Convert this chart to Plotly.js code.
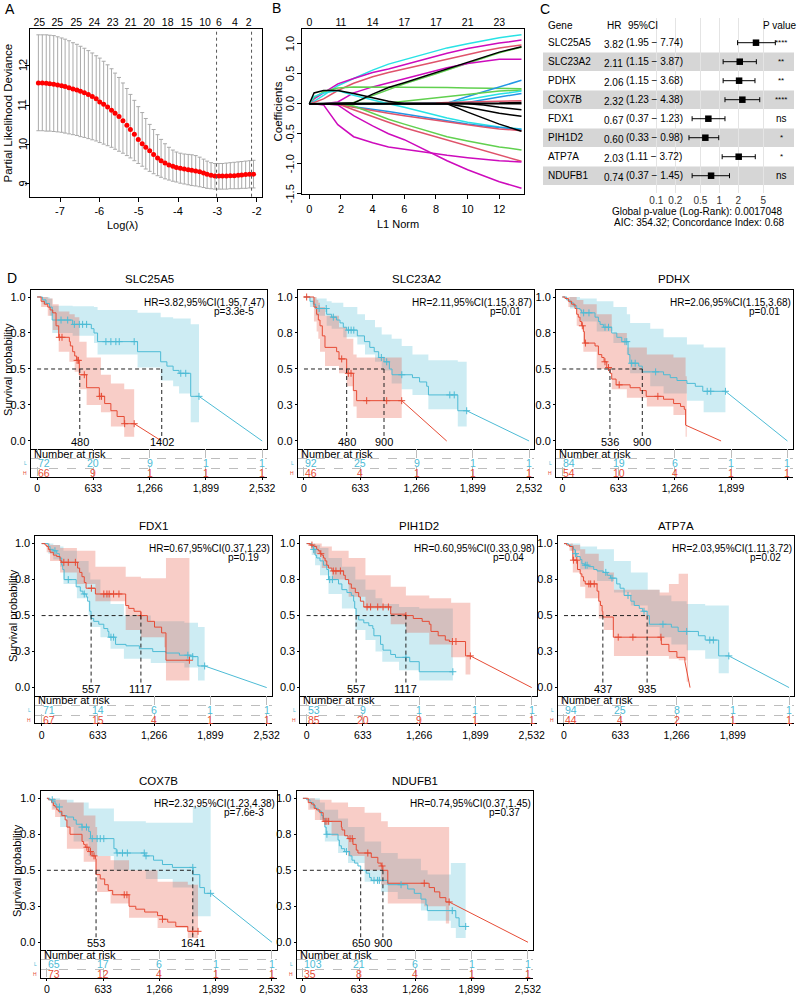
<!DOCTYPE html>
<html><head><meta charset="utf-8">
<script src="https://cdn.plot.ly/plotly-3.0.1.min.js"></script>
<style>html,body{margin:0;padding:0;background:#fff}#chart{width:799px;height:997px}</style>
</head><body><div id="chart"></div>
<script>
// ================= DATA =================
// ---- Panel A: LASSO cross-validation ----
const lassoLogLambda = [-7.55,-7.45,-7.35,-7.26,-7.16,-7.06,-6.96,-6.87,-6.77,-6.67,-6.57,-6.48,-6.38,-6.28,-6.18,-6.08,-5.99,-5.89,-5.79,-5.69,-5.60,-5.50,-5.40,-5.30,-5.21,-5.11,-5.01,-4.91,-4.82,-4.72,-4.62,-4.52,-4.43,-4.33,-4.23,-4.13,-4.04,-3.94,-3.84,-3.74,-3.65,-3.55,-3.45,-3.35,-3.26,-3.16,-3.06,-2.96,-2.87,-2.77,-2.67,-2.57,-2.47,-2.38,-2.28,-2.18,-2.08];
const lassoDeviance = [11.56,11.56,11.55,11.54,11.53,11.51,11.49,11.47,11.44,11.41,11.38,11.35,11.31,11.27,11.22,11.16,11.08,11.02,10.95,10.87,10.79,10.71,10.6,10.49,10.38,10.26,10.13,10.02,9.93,9.84,9.75,9.66,9.59,9.53,9.48,9.45,9.42,9.4,9.38,9.36,9.35,9.33,9.31,9.28,9.25,9.22,9.2,9.2,9.2,9.2,9.21,9.21,9.22,9.23,9.24,9.25,9.25];
const lassoUpper = [12.78,12.78,12.78,12.77,12.76,12.73,12.7,12.67,12.63,12.58,12.54,12.49,12.44,12.38,12.32,12.25,12.19,12.11,12.02,11.92,11.81,11.7,11.56,11.42,11.27,11.12,10.96,10.81,10.66,10.51,10.38,10.25,10.13,10.02,9.93,9.86,9.81,9.78,9.76,9.75,9.74,9.72,9.68,9.63,9.58,9.54,9.52,9.52,9.52,9.53,9.54,9.55,9.56,9.57,9.58,9.59,9.6];
const lassoLower = [10.35,10.35,10.34,10.34,10.33,10.32,10.31,10.29,10.27,10.25,10.23,10.2,10.18,10.15,10.12,10.09,10.05,10.01,9.97,9.93,9.88,9.83,9.78,9.72,9.66,9.59,9.52,9.45,9.38,9.32,9.26,9.21,9.17,9.13,9.1,9.07,9.05,9.02,9.0,8.98,8.96,8.95,8.93,8.91,8.89,8.88,8.87,8.87,8.87,8.87,8.88,8.88,8.88,8.89,8.89,8.9,8.9];
const lassoTopPos = [-7.525,-7.068,-6.585,-6.127,-5.661,-5.203,-4.737,-4.263,-3.78,-3.314,-2.958,-2.551,-2.203];
const lassoTopLab = ['25','25','25','24','23','21','20','18','15','10','6','4','2'];
const lassoXTicks = [-7,-6,-5,-4,-3,-2];
const lassoYTicks = [9,10,11,12];
const lambdaLines = [-3.02,-2.13];

// ---- Panel B: coefficient paths ----
const coefL1 = [0,0.3,0.9,1.8,2.8,4,5,6,8,8.7,10,11,12,13.4];
const coefPaths = [
 [0,0.04,0.14,0.3,0.42,0.56,0.66,0.73,0.88,0.93,1.0,1.05,1.1,1.15],
 [0,0.08,0.18,0.33,0.42,0.52,0.58,0.65,0.8,0.84,0.92,0.97,1.01,1.06],
 [0,0.02,0.08,0.22,0.34,0.45,0.52,0.58,0.71,0.75,0.83,0.88,0.93,0.98],
 [0,0,0,0,0.02,0.14,0.24,0.33,0.5,0.56,0.68,0.76,0.85,0.94],
 [0,0,0,0.03,0.18,0.28,0.35,0.42,0.56,0.6,0.67,0.71,0.74,0.74],
 [0,0.1,0.2,0.26,0.28,0.28,0.28,0.27,0.27,0.27,0.26,0.26,0.25,0.25],
 [0,0,0,0,0,0,0,0,0,0.01,0.12,0.2,0.28,0.39],
 [0,0,0,0,0,0,0.01,0.04,0.1,0.12,0.16,0.19,0.21,0.23],
 [0,0,0,0,0,0,0,0,0,0.01,0.07,0.12,0.16,0.21],
 [0,0,0,0,0,0,0,0,0,0,0.02,0.06,0.11,0.17],
 [0,0,0,0,0,0,0,0,0.01,0.02,0.03,0.04,0.05,0.05],
 [0,0.12,0.18,0.22,0.14,0.06,0,-0.06,-0.2,-0.24,-0.31,-0.35,-0.39,-0.42],
 [0,0,0,0,-0.05,-0.1,-0.13,-0.17,-0.26,-0.28,-0.34,-0.37,-0.4,-0.43],
 [0,0,0,-0.01,-0.06,-0.12,-0.16,-0.2,-0.28,-0.3,-0.36,-0.39,-0.42,-0.45],
 [0,0,0,0,-0.04,-0.16,-0.26,-0.34,-0.5,-0.55,-0.62,-0.67,-0.72,-0.77],
 [0,0,0,0,-0.1,-0.22,-0.31,-0.4,-0.55,-0.6,-0.7,-0.78,-0.86,-0.96],
 [0,0,-0.02,-0.35,-0.55,-0.65,-0.72,-0.76,-0.84,-0.86,-0.9,-0.93,-0.95,-0.97],
 [0,0,0,-0.02,-0.2,-0.37,-0.5,-0.6,-0.86,-0.95,-1.1,-1.2,-1.3,-1.41],
 [0,0,0,0,0.01,0.16,0.27,0.35,0.52,0.58,0.7,0.78,0.86,0.95],
 [0,0,0,0,0,0,0,0,0,0,0,0,0.01,0.02],
 [0,0.18,0.22,0.22,0.17,0.1,0.04,0,0,0,0,0,0,0],
 [0,0,0,0,0,0,0,0,0,0,0,-0.02,-0.06,-0.1],
 [0,0,0,0,0,0,0,0,0,0,-0.06,-0.11,-0.16,-0.21],
 [0,0,0,0,0,0,0,0,0,0,-0.14,-0.24,-0.34,-0.46]
];
const coefColors = ['#28E2E5','#CD0BBC','#DF536B','#61D04F','#CD0BBC','#61D04F','#2297E6','#61D04F','#28E2E5','#2297E6','#DF536B','#28E2E5','#2297E6','#DF536B','#61D04F','#DF536B','#CD0BBC','#CD0BBC','#000000','#000000','#000000','#000000','#000000','#000000'];
const coefXTicks = [0,2,4,6,8,10,12];
const coefTopLab = ['0','11','14','17','17','21','23'];
const coefYTicks = [-1.5,-1,-0.5,0,0.5,1];
const coefYLab = ['-1.5','-1.0','-0.5','0.0','0.5','1.0'];

// ---- Panel C: multivariate Cox forest ----
const fpGenes = ['SLC25A5','SLC23A2','PDHX','COX7B','FDX1','PIH1D2','ATP7A','NDUFB1'];
const fpHR = [3.82,2.11,2.06,2.32,0.67,0.60,2.03,0.74];
const fpLo = [1.95,1.15,1.15,1.23,0.37,0.33,1.11,0.37];
const fpHi = [7.74,3.87,3.68,4.38,1.23,0.98,3.72,1.45];
const fpSig = ['****','**','**','****','ns','*','*','ns'];
const fpTicks = [0.1,0.2,0.5,1,2,5];
const fpFooter = ['Global p-value (Log-Rank): 0.0017048','AIC: 354.32; Concordance Index: 0.68'];

// ---- Panel D: Kaplan-Meier ----
const kmGenes = ['SLC25A5','SLC23A2','PDHX','FDX1','PIH1D2','ATP7A','COX7B','NDUFB1'];
const kmHR = ['HR=3.82,95%CI(1.95,7.47)','HR=2.11,95%CI(1.15,3.87)','HR=2.06,95%CI(1.15,3.68)','HR=0.67,95%CI(0.37,1.23)','HR=0.60,95%CI(0.33,0.98)','HR=2.03,95%CI(1.11,3.72)','HR=2.32,95%CI(1.23,4.38)','HR=0.74,95%CI(0.37,1.45)'];
const kmP = ['p=3.3e-5','p=0.01','p=0.01','p=0.19','p=0.04','p=0.02','p=7.6e-3','p=0.37'];
const medianL = [1402,900,900,557,557,935,1641,650];
const medianH = [480,480,536,1117,1117,437,553,900];
const riskL = [[72,20,9,1,1],[92,25,9,1,1],[84,19,6,1,1],[71,14,6,1,1],[53,9,1,1,1],[94,25,8,1,1],[65,17,6,1,1],[103,21,6,1,1]];
const riskH = [[66,9,1,1,1],[46,4,1,1,1],[54,10,4,1,1],[67,15,4,1,1],[85,20,9,1,1],[44,4,2,1,1],[73,12,4,1,1],[35,8,4,1,1]];
const riskTimes = [0,633,1266,1899,2532];
const riskTickText = ['0','633','1,266','1,899','2,532'];
const survTicks = [0,0.25,0.5,0.75,1];
const survTickText = ['0.0','0.3','0.5','0.8','1.0'];

// SLC25A5
const SLC25A5_L_t = [0,60,100,140,170,400,610,640,680,1130,1390,1460,1530,1597,1728,1821];
const SLC25A5_L_s = [1,0.98,0.955,0.93,0.84,0.81,0.78,0.75,0.69,0.62,0.55,0.52,0.49,0.47,0.31,0.31];
const SLC25A5_L_cens = [269,344,419,475,512,557,774,830,886,924,1092,1616,1672,1821];
const SLC25A5_L_ciT = [0,60,140,170,400,640,680,1130,1390,1530,1597,1728,1821];
const SLC25A5_L_lo = [1,0.95,0.87,0.75,0.73,0.68,0.6,0.51,0.42,0.38,0.33,0.13,0.13];
const SLC25A5_L_hi = [1,1,0.99,0.94,0.935,0.93,0.91,0.89,0.86,0.85,0.85,0.81,0.81];
const SLC25A5_L_tail = 2532;
const SLC25A5_H_t = [0,45,82,120,146,176,213,243,363,374,400,423,445,475,557,700,760,830,900,980,1092];
const SLC25A5_H_s = [1,0.97,0.95,0.93,0.91,0.89,0.8,0.72,0.69,0.66,0.62,0.59,0.56,0.46,0.37,0.31,0.26,0.21,0.17,0.12,0.12];
const SLC25A5_H_cens = [250,280,450,465,531,705,725,985,1092];
const SLC25A5_H_ciT = [0,45,120,176,243,363,423,475,557,718,830,980,1092];
const SLC25A5_H_lo = [1,0.93,0.87,0.77,0.62,0.55,0.48,0.36,0.25,0.2,0.1,0.03,0.03];
const SLC25A5_H_hi = [1,1,0.99,0.95,0.9,0.88,0.86,0.69,0.58,0.46,0.4,0.36,0.36];
const SLC25A5_H_tail = 1400;
// SLC23A2
const SLC23A2_L_t = [0,67,105,131,255,311,367,405,442,480,600,680,740,790,840,900,960,990,1220,1300,1380,1400,1730,1830];
const SLC23A2_L_s = [1,0.97,0.95,0.92,0.88,0.86,0.84,0.82,0.79,0.77,0.73,0.69,0.65,0.62,0.58,0.55,0.5,0.46,0.44,0.41,0.38,0.32,0.21,0.21];
const SLC23A2_L_cens = [170,250,330,500,530,560,870,930,1100,1640,1690,1830];
const SLC23A2_L_ciT = [0,67,131,255,311,442,600,686,799,874,986,1099,1220,1399,1730,1830];
const SLC23A2_L_lo = [1,0.93,0.87,0.8,0.78,0.72,0.67,0.6,0.55,0.49,0.4,0.36,0.32,0.22,0.1,0.1];
const SLC23A2_L_hi = [1,1,0.99,0.97,0.96,0.93,0.88,0.84,0.79,0.74,0.71,0.66,0.6,0.56,0.55,0.55];
const SLC23A2_L_tail = 2532;
const SLC23A2_H_t = [0,112,142,161,180,206,236,367,394,480,555,592,1099];
const SLC23A2_H_s = [1,0.93,0.88,0.84,0.8,0.73,0.65,0.62,0.57,0.47,0.35,0.28,0.28];
const SLC23A2_H_cens = [30,424,499,529,705,930,1099];
const SLC23A2_H_ciT = [0,112,142,161,180,236,394,480,555,592,1099];
const SLC23A2_H_lo = [1,0.83,0.76,0.71,0.62,0.52,0.47,0.38,0.24,0.16,0.16];
const SLC23A2_H_hi = [1,1,0.98,0.96,0.93,0.87,0.79,0.71,0.6,0.58,0.58];
const SLC23A2_H_tail = 1605;
// PDHX
const PDHX_L_t = [0,49,86,124,162,199,218,368,406,425,462,556,613,669,740,760,860,900,1139,1214,1290,1402,1496,1580,1835];
const PDHX_L_s = [1,0.98,0.96,0.94,0.92,0.91,0.89,0.86,0.83,0.81,0.79,0.75,0.72,0.69,0.6,0.54,0.52,0.48,0.46,0.44,0.42,0.4,0.38,0.345,0.345];
const PDHX_L_cens = [240,300,480,520,705,725,780,820,1050,1630,1670,1835];
const PDHX_L_ciT = [0,86,199,387,575,726,763,989,1139,1402,1590,1835];
const PDHX_L_lo = [1,0.92,0.83,0.76,0.68,0.6,0.47,0.38,0.33,0.28,0.2,0.2];
const PDHX_L_hi = [1,1,0.99,0.97,0.93,0.88,0.82,0.78,0.72,0.67,0.65,0.65];
const PDHX_L_tail = 2532;
const PDHX_H_t = [0,30,68,105,143,162,180,199,218,237,248,368,406,444,470,500,538,556,605,763,876,944,1139,1252,1330,1372,1387];
const PDHX_H_s = [1,0.99,0.97,0.95,0.92,0.88,0.86,0.83,0.8,0.76,0.68,0.66,0.6,0.58,0.55,0.51,0.47,0.43,0.39,0.37,0.35,0.31,0.29,0.26,0.24,0.22,0.11];
const PDHX_H_cens = [225,260,480,520,640,1075];
const PDHX_H_ciT = [0,68,162,237,387,556,726,951,1250,1387,1400];
const PDHX_H_lo = [1,0.93,0.8,0.62,0.5,0.36,0.3,0.24,0.18,0.03,0.03];
const PDHX_H_hi = [1,1,0.98,0.95,0.88,0.75,0.65,0.6,0.58,0.45,0.45];
const PDHX_H_tail = 1786;
// FDX1
const FDX1_L_t = [0,76,95,132,170,200,227,238,253,389,435,465,503,518,541,556,586,643,700,745,757,832,950,1100,1250,1400,1550,1700,1759,1834];
const FDX1_L_s = [1,0.98,0.96,0.95,0.93,0.9,0.85,0.82,0.75,0.7,0.67,0.65,0.63,0.6,0.53,0.48,0.46,0.44,0.41,0.39,0.35,0.3,0.29,0.27,0.25,0.24,0.225,0.215,0.15,0.15];
const FDX1_L_cens = [150,300,480,780,810,1645,1700,1834];
const FDX1_L_ciT = [0,76,132,208,246,397,529,548,662,775,926,1228,1606,1759,1834];
const FDX1_L_lo = [1,0.93,0.89,0.84,0.72,0.62,0.5,0.42,0.35,0.27,0.2,0.17,0.14,0.05,0.05];
const FDX1_L_hi = [1,1,0.99,0.98,0.95,0.88,0.8,0.75,0.65,0.58,0.5,0.46,0.45,0.42,0.42];
const FDX1_L_tail = 2532;
const FDX1_H_t = [0,39,57,76,95,132,170,208,227,405,428,454,480,500,605,946,980,1040,1117,1190,1270,1350,1399,1663];
const FDX1_H_s = [1,0.99,0.98,0.96,0.94,0.92,0.91,0.88,0.87,0.83,0.8,0.77,0.73,0.69,0.65,0.57,0.55,0.53,0.5,0.46,0.42,0.38,0.19,0.19];
const FDX1_H_cens = [250,300,380,560,700,735,760,810,870,1117,1663];
const FDX1_H_ciT = [0,57,95,208,397,605,946,1117,1380,1399,1663];
const FDX1_H_lo = [1,0.94,0.88,0.8,0.72,0.6,0.4,0.35,0.28,0.05,0.05];
const FDX1_H_hi = [1,1,0.99,0.97,0.95,0.84,0.77,0.76,0.76,0.9,0.9];
const FDX1_H_tail = null;
// PIH1D2
const PIH1D2_L_t = [0,57,76,95,113,151,189,227,246,359,397,454,503,529,541,557,586,643,700,745,757,832,860,946,1000,1160,1267,1645];
const PIH1D2_L_s = [1,0.98,0.96,0.92,0.9,0.88,0.85,0.82,0.75,0.72,0.68,0.66,0.64,0.6,0.55,0.5,0.47,0.45,0.43,0.41,0.36,0.3,0.26,0.23,0.21,0.18,0.11,0.11];
const PIH1D2_L_cens = [80,260,290,1117,1645];
const PIH1D2_L_ciT = [0,57,95,151,246,397,548,662,775,851,1040,1267,1645];
const PIH1D2_L_lo = [1,0.92,0.85,0.78,0.65,0.55,0.4,0.33,0.25,0.18,0.12,0.05,0.05];
const PIH1D2_L_hi = [1,1,0.99,0.97,0.9,0.84,0.75,0.68,0.62,0.58,0.56,0.55,0.55];
const PIH1D2_L_tail = null;
const PIH1D2_H_t = [0,39,76,113,132,151,170,189,208,227,246,284,416,435,473,503,548,586,605,643,946,1117,1200,1300,1380,1399,1480,1560,1607,1788,1842];
const PIH1D2_H_s = [1,0.99,0.98,0.96,0.95,0.93,0.92,0.9,0.88,0.85,0.83,0.81,0.78,0.75,0.72,0.69,0.66,0.63,0.6,0.56,0.51,0.5,0.48,0.46,0.44,0.39,0.36,0.33,0.32,0.22,0.22];
const PIH1D2_H_cens = [60,160,300,330,380,680,720,800,860,920,1117,1640,1680,1842];
const PIH1D2_H_ciT = [0,76,170,284,473,662,946,1117,1380,1626,1788,1842];
const PIH1D2_H_lo = [1,0.93,0.83,0.75,0.63,0.55,0.44,0.38,0.3,0.21,0.09,0.09];
const PIH1D2_H_hi = [1,1,0.98,0.95,0.9,0.78,0.7,0.64,0.62,0.59,0.59,0.59];
const PIH1D2_H_tail = 2532;
// ATP7A
const ATP7A_L_t = [0,49,76,106,125,144,182,201,232,277,334,372,441,486,524,593,631,676,752,790,847,885,935,961,1208,1284,1512,1588,1740,1854];
const ATP7A_L_s = [1,0.99,0.98,0.96,0.93,0.91,0.89,0.86,0.85,0.84,0.82,0.81,0.8,0.78,0.76,0.72,0.69,0.64,0.6,0.57,0.55,0.53,0.5,0.44,0.42,0.39,0.36,0.33,0.22,0.22];
const ATP7A_L_cens = [130,240,260,470,540,720,900,1113,1380,1640,1680,1854];
const ATP7A_L_ciT = [0,76,182,372,562,752,942,1075,1208,1380,1588,1740,1854];
const ATP7A_L_lo = [1,0.95,0.82,0.74,0.66,0.57,0.42,0.35,0.3,0.26,0.2,0.1,0.1];
const ATP7A_L_hi = [1,1,0.98,0.96,0.88,0.8,0.68,0.64,0.6,0.58,0.57,0.57,0.57];
const ATP7A_L_tail = 2532;
const ATP7A_H_t = [0,30,61,99,152,182,201,220,239,372,391,410,429,437,555,1095,1180,1270,1360];
const ATP7A_H_s = [1,0.99,0.98,0.885,0.82,0.79,0.77,0.74,0.72,0.67,0.6,0.57,0.53,0.49,0.35,0.3,0.25,0.21,0.18];
const ATP7A_H_cens = [106,144,280,300,340,610,775,1090];
const ATP7A_H_ciT = [0,61,99,182,239,391,448,562,1076,1180,1290,1380,1395];
const ATP7A_H_lo = [1,0.95,0.8,0.7,0.62,0.48,0.4,0.22,0.22,0.2,0.19,0.04,0.04];
const ATP7A_H_hi = [1,1,0.99,0.96,0.93,0.88,0.8,0.68,0.66,0.72,0.79,0.79,0.79];
const ATP7A_H_tail = 1418;
// COX7B
const COX7B_L_t = [0,36,66,92,111,141,168,225,300,330,395,470,490,754,780,1100,1200,1300,1412,1645,1720,1772,1842];
const COX7B_L_s = [1,0.99,0.98,0.96,0.94,0.9,0.88,0.87,0.85,0.82,0.8,0.77,0.72,0.65,0.62,0.6,0.57,0.54,0.52,0.47,0.38,0.34,0.34];
const COX7B_L_cens = [60,140,395,445,510,565,600,640,790,850,905,1095,1115,1641,1842];
const COX7B_L_ciT = [0,66,149,300,470,754,1113,1415,1641,1842];
const COX7B_L_lo = [1,0.93,0.8,0.7,0.6,0.5,0.44,0.38,0.18,0.18];
const COX7B_L_hi = [1,1,0.99,0.97,0.93,0.84,0.83,0.83,0.94,0.94];
const COX7B_L_tail = 2532;
const COX7B_H_t = [0,17,54,73,92,111,130,168,205,225,260,395,413,432,470,508,546,553,600,650,690,740,924,1000,1100,1245,1300,1359,1450,1585,1700];
const COX7B_H_s = [1,0.99,0.97,0.95,0.94,0.92,0.91,0.88,0.85,0.8,0.75,0.7,0.68,0.66,0.63,0.6,0.58,0.47,0.44,0.4,0.36,0.33,0.25,0.23,0.21,0.185,0.16,0.14,0.11,0.076,0.076];
const COX7B_H_cens = [450,490,530,870,900,1300,1640,1700];
const COX7B_H_ciT = [0,54,92,225,414,546,565,716,924,1245,1585,1700];
const COX7B_H_lo = [1,0.92,0.87,0.65,0.56,0.47,0.35,0.27,0.17,0.1,0.03,0.03];
const COX7B_H_hi = [1,1,0.99,0.97,0.88,0.8,0.6,0.57,0.5,0.42,0.4,0.4];
const COX7B_H_tail = null;
// NDUFB1
const NDUFB1_L_t = [0,42,79,116,142,172,210,228,247,262,395,410,433,470,526,552,582,619,650,712,750,769,955,1179,1253,1328,1384,1400,1720,1757,1831];
const NDUFB1_L_s = [1,0.99,0.97,0.95,0.93,0.91,0.88,0.86,0.8,0.75,0.71,0.67,0.65,0.63,0.6,0.57,0.55,0.53,0.5,0.48,0.45,0.43,0.4,0.37,0.34,0.3,0.26,0.22,0.17,0.11,0.11];
const NDUFB1_L_cens = [270,490,800,840,860,1104,1680,1831];
const NDUFB1_L_ciT = [0,79,191,247,396,508,694,880,1067,1328,1403,1664,1720,1831];
const NDUFB1_L_lo = [1,0.93,0.85,0.7,0.62,0.55,0.42,0.35,0.3,0.22,0.15,0.1,0.03,0.03];
const NDUFB1_L_hi = [1,1,0.97,0.92,0.86,0.8,0.7,0.62,0.58,0.5,0.47,0.55,0.55,0.55];
const NDUFB1_L_tail = null;
const NDUFB1_H_t = [0,60,97,127,153,190,228,433,440,470,507,563,600,619,769,843,880,900,955,1420,1480,1540,1608,1645];
const NDUFB1_H_s = [1,0.97,0.96,0.93,0.92,0.9,0.84,0.8,0.78,0.74,0.72,0.68,0.64,0.62,0.59,0.55,0.53,0.5,0.41,0.38,0.35,0.31,0.28,0.28];
const NDUFB1_H_cens = [250,270,290,530,555,730,890,1365,1645];
const NDUFB1_H_ciT = [0,60,135,322,508,694,880,955,1365,1608,1645];
const NDUFB1_H_lo = [1,0.92,0.85,0.74,0.6,0.5,0.4,0.27,0.25,0.13,0.13];
const NDUFB1_H_hi = [1,1,0.99,0.97,0.94,0.9,0.84,0.8,0.8,0.8,0.8];
const NDUFB1_H_tail = 2532;

const kmData = [
 {L:[SLC25A5_L_t,SLC25A5_L_s,SLC25A5_L_cens,SLC25A5_L_ciT,SLC25A5_L_lo,SLC25A5_L_hi,SLC25A5_L_tail], H:[SLC25A5_H_t,SLC25A5_H_s,SLC25A5_H_cens,SLC25A5_H_ciT,SLC25A5_H_lo,SLC25A5_H_hi,SLC25A5_H_tail]},
 {L:[SLC23A2_L_t,SLC23A2_L_s,SLC23A2_L_cens,SLC23A2_L_ciT,SLC23A2_L_lo,SLC23A2_L_hi,SLC23A2_L_tail], H:[SLC23A2_H_t,SLC23A2_H_s,SLC23A2_H_cens,SLC23A2_H_ciT,SLC23A2_H_lo,SLC23A2_H_hi,SLC23A2_H_tail]},
 {L:[PDHX_L_t,PDHX_L_s,PDHX_L_cens,PDHX_L_ciT,PDHX_L_lo,PDHX_L_hi,PDHX_L_tail], H:[PDHX_H_t,PDHX_H_s,PDHX_H_cens,PDHX_H_ciT,PDHX_H_lo,PDHX_H_hi,PDHX_H_tail]},
 {L:[FDX1_L_t,FDX1_L_s,FDX1_L_cens,FDX1_L_ciT,FDX1_L_lo,FDX1_L_hi,FDX1_L_tail], H:[FDX1_H_t,FDX1_H_s,FDX1_H_cens,FDX1_H_ciT,FDX1_H_lo,FDX1_H_hi,FDX1_H_tail]},
 {L:[PIH1D2_L_t,PIH1D2_L_s,PIH1D2_L_cens,PIH1D2_L_ciT,PIH1D2_L_lo,PIH1D2_L_hi,PIH1D2_L_tail], H:[PIH1D2_H_t,PIH1D2_H_s,PIH1D2_H_cens,PIH1D2_H_ciT,PIH1D2_H_lo,PIH1D2_H_hi,PIH1D2_H_tail]},
 {L:[ATP7A_L_t,ATP7A_L_s,ATP7A_L_cens,ATP7A_L_ciT,ATP7A_L_lo,ATP7A_L_hi,ATP7A_L_tail], H:[ATP7A_H_t,ATP7A_H_s,ATP7A_H_cens,ATP7A_H_ciT,ATP7A_H_lo,ATP7A_H_hi,ATP7A_H_tail]},
 {L:[COX7B_L_t,COX7B_L_s,COX7B_L_cens,COX7B_L_ciT,COX7B_L_lo,COX7B_L_hi,COX7B_L_tail], H:[COX7B_H_t,COX7B_H_s,COX7B_H_cens,COX7B_H_ciT,COX7B_H_lo,COX7B_H_hi,COX7B_H_tail]},
 {L:[NDUFB1_L_t,NDUFB1_L_s,NDUFB1_L_cens,NDUFB1_L_ciT,NDUFB1_L_lo,NDUFB1_L_hi,NDUFB1_L_tail], H:[NDUFB1_H_t,NDUFB1_H_s,NDUFB1_H_cens,NDUFB1_H_ciT,NDUFB1_H_lo,NDUFB1_H_hi,NDUFB1_H_tail]}
];

// ================= LAYOUT / DRAWING =================
const W = 799, H = 997;
const FONT = 'Liberation Sans, Arial, Helvetica, sans-serif';
const fx = p => p / W;
const fy = p => 1 - p / H;
const layout = {width:W, height:H, margin:{l:0,r:0,t:0,b:0,pad:0}, paper_bgcolor:'#ffffff', plot_bgcolor:'rgba(0,0,0,0)',
  showlegend:false, hovermode:false, font:{family:FONT, size:11, color:'#000'}, annotations:[], shapes:[]};
const data = [];
let axCount = 0;
function sfx(n){ return n === 1 ? '' : String(n); }
function addAxes(xPx, yPx, xo, yo){
  axCount++; const s = sfx(axCount);
  layout['xaxis'+s] = Object.assign({domain:[fx(xPx[0]), fx(xPx[1])], anchor:'y'+s, showgrid:false, zeroline:false, fixedrange:true}, xo);
  layout['yaxis'+s] = Object.assign({domain:[fy(yPx[1]), fy(yPx[0])], anchor:'x'+s, showgrid:false, zeroline:false, fixedrange:true}, yo);
  return {x:'x'+s, y:'y'+s};
}
function addOverlayX(base, xo){
  axCount++; const s = sfx(axCount);
  layout['xaxis'+s] = Object.assign({overlaying:base.x, anchor:base.y, side:'top', showgrid:false, zeroline:false, fixedrange:true}, xo);
  return 'x'+s;
}
function ann(o){
  const f = Object.assign({family:FONT, size:11, color:'#000'}, o.font || {});
  layout.annotations.push(Object.assign({showarrow:false, xref:'paper', yref:'paper', xanchor:'center', yanchor:'middle', borderpad:0}, o, {font:f}));
}
const boxAxis = {showline:true, mirror:true, linecolor:'#000', linewidth:1};

// ---------- Panel A ----------
const A = addAxes([30,261.7],[29.3,196.7],
  Object.assign({range:[-7.763,-1.872], tickvals:lassoXTicks, ticktext:lassoXTicks.map(String), ticks:'outside', ticklen:4, tickcolor:'#000', tickfont:{size:11}}, boxAxis),
  Object.assign({range:[8.678,12.92], tickvals:lassoYTicks, showticklabels:false, ticks:'outside', ticklen:4, tickcolor:'#000'}, boxAxis));
lassoYTicks.forEach(v => ann({text:String(v), x:fx(22.5), yref:A.y, y:v, textangle:-90, font:{size:11}}));
const Atop = addOverlayX(A, {range:[-7.763,-1.872], tickvals:lassoTopPos, ticktext:lassoTopLab, ticks:'', tickfont:{size:10.5}, showline:false});
data.push({type:'scatter', x:[-5], y:[10], xaxis:Atop, yaxis:A.y, mode:'markers', marker:{opacity:0}, hoverinfo:'skip'});
data.push({type:'scatter', x:lassoLogLambda, y:lassoDeviance, xaxis:A.x, yaxis:A.y, mode:'markers',
  marker:{color:'#FF0000', size:5},
  error_y:{type:'data', symmetric:false, array:lassoUpper.map((u,i)=>u-lassoDeviance[i]), arrayminus:lassoLower.map((l,i)=>lassoDeviance[i]-l), color:'#AAAAAA', thickness:1, width:2}});
lambdaLines.forEach(v => layout.shapes.push({type:'line', xref:A.x, yref:A.y+' domain', x0:v, x1:v, y0:0, y1:1, line:{color:'#555', width:1, dash:'dot'}}));
ann({text:'A', x:fx(10), y:fy(8.5), font:{size:14}});
ann({text:'Partial Likelihood Deviance', x:fx(7.5), y:fy(113), textangle:-90, font:{size:11.5}});
ann({text:'Log(λ)', x:fx(122.7), y:fy(225), font:{size:11}});

// ---------- Panel B ----------
const B = addAxes([301.7,524],[29.3,194.3],
  Object.assign({range:[-0.48,13.56], tickvals:coefXTicks, ticktext:coefXTicks.map(String), ticks:'outside', ticklen:4, tickcolor:'#000', tickfont:{size:11}}, boxAxis),
  Object.assign({range:[-1.51,1.24], tickvals:coefYTicks, showticklabels:false, ticks:'outside', ticklen:4, tickcolor:'#000'}, boxAxis));
coefYTicks.forEach((v,k) => ann({text:coefYLab[k], x:fx(289.5), yref:B.y, y:v, textangle:-90, font:{size:11}}));
const Btop = addOverlayX(B, {range:[-0.48,13.56], tickvals:coefXTicks, ticktext:coefTopLab, ticks:'', tickfont:{size:10.5}, showline:false});
data.push({type:'scatter', x:[5], y:[0], xaxis:Btop, yaxis:B.y, mode:'markers', marker:{opacity:0}, hoverinfo:'skip'});
coefPaths.forEach((p,i) => data.push({type:'scatter', x:coefL1, y:p, xaxis:B.x, yaxis:B.y, mode:'lines', line:{color:coefColors[i], width:1.5}}));
ann({text:'B', x:fx(276.7), y:fy(8), font:{size:14}});
ann({text:'Coefficients', x:fx(277.5), y:fy(112), textangle:-90, font:{size:11.5}});
ann({text:'L1 Norm', x:fx(398.3), y:fy(224), font:{size:11}});

// ---------- Panel C ----------
const C = addAxes([650,780],[18,193],
  {type:'log', range:[-1.1,0.963], tickvals:fpTicks, ticktext:fpTicks.map(String), ticks:'', showgrid:true, gridcolor:'#E4E4E4', gridwidth:1, tickfont:{size:10, color:'#333'}, showline:false},
  {range:[8.91,-0.3], showticklabels:false, ticks:'', showline:false});
fpGenes.forEach((g,i) => {
  const row = i + 1;
  if (i % 2 === 1) layout.shapes.push({type:'rect', xref:'paper', yref:C.y, x0:fx(543), x1:fx(794), y0:row-0.49, y1:row+0.49, fillcolor:'#D6D6D6', line:{width:0}, layer:'below'});
  ann({text:g, x:fx(547), xanchor:'left', yref:C.y, y:row, font:{size:10}});
  ann({text:fpHR[i].toFixed(2), x:fx(602.7), xanchor:'left', yref:C.y, y:row+0.1, font:{size:10}});
  ann({text:'(' + fpLo[i].toFixed(2) + ' \u2212 ' + fpHi[i].toFixed(2) + ')', x:fx(625), xanchor:'left', yref:C.y, y:row, font:{size:10}});
  ann({text:fpSig[i], x:fx(781), yref:C.y, y:row, font:{size:fpSig[i]==='ns'?10:8}});
});
layout.shapes.push({type:'line', xref:C.x, yref:C.y+' domain', x0:0, x1:0, y0:0, y1:1, line:{color:'#222', width:1, dash:'dot'}});
data.push({type:'scatter', x:fpHR, y:fpGenes.map((g,i)=>i+1), xaxis:C.x, yaxis:C.y, mode:'markers',
  marker:{symbol:'square', size:6.5, color:'#000'},
  error_x:{type:'data', symmetric:false, array:fpHi.map((h,i)=>h-fpHR[i]), arrayminus:fpHR.map((v,i)=>v-fpLo[i]), color:'#000', thickness:1, width:2.5}});
ann({text:'Gene', x:fx(547), xanchor:'left', yref:C.y, y:0.07, font:{size:10}});
ann({text:'HR', x:fx(606), xanchor:'left', yref:C.y, y:0.07, font:{size:10}});
ann({text:'95%CI', x:fx(627), xanchor:'left', yref:C.y, y:0.07, font:{size:10}});
ann({text:'P value', x:fx(762), xanchor:'left', yref:C.y, y:0.07, font:{size:10}});
ann({text:fpFooter[0], x:fx(697.5), y:fy(211.3), font:{size:10}});
ann({text:fpFooter[1], x:fx(699), y:fy(222), font:{size:10}});
ann({text:'C', x:fx(545), y:fy(8.5), font:{size:14}});

// ---------- Panel D ----------
const BLUE = '#4DBBD5', RED = '#E64B35';
const BLUE_BAND = 'rgba(77,187,213,0.28)', RED_BAND = 'rgba(230,75,53,0.28)';
const PXD = 0.0889;              // px per day
const XR = [-70, 2590];
const zeroPx = [37.1,304,562.3, 41.6,306.6,564, 46.9,302.9];
const rowY1 = [297,297,297, 543.6,543.6,543.6, 798.3,798.3];
function stepAt(t, s, x){ let v = s[0]; for (let j=0;j<t.length;j++){ if (t[j] <= x) v = s[j]; else break; } return v; }

kmGenes.forEach((gene, i) => {
  const Y1 = rowY1[i], Y0 = Y1 + 144;
  const left = zeroPx[i] + XR[0]*PXD, right = left + (XR[1]-XR[0])*PXD;
  const S = addAxes([left,right],[Y1-7.2, Y0+7.9],
    Object.assign({range:XR, showticklabels:false, ticks:''}, boxAxis),
    Object.assign({range:[-0.055,1.05], tickvals:survTicks, ticktext:survTickText, ticks:'outside', ticklen:2, tickcolor:'#000', tickfont:{size:11}}, boxAxis));
  const R = addAxes([left,right],[Y0+7.9, Y0+35.5],
    {range:XR, tickvals:riskTimes, ticktext:riskTickText, ticks:'outside', ticklen:2, tickcolor:'#000', tickfont:{size:10.5},
     showline:true, linecolor:'#000', linewidth:1, showgrid:true, gridcolor:'#BDBDBD', griddash:'dash', gridwidth:1},
    {range:[0,1], tickvals:[0.65,0.29], showticklabels:false, ticks:'', showline:true, linecolor:'#000', linewidth:1,
     showgrid:true, gridcolor:'#BDBDBD', griddash:'dash', gridwidth:1});
  const groups = [['L', BLUE, BLUE_BAND], ['H', RED, RED_BAND]];
  groups.forEach(([k, col, band]) => {
    const d = kmData[i][k];
    data.push({type:'scatter', x:d[3], y:d[4], xaxis:S.x, yaxis:S.y, mode:'lines', line:{width:0, shape:'hv'}, hoverinfo:'skip'});
    data.push({type:'scatter', x:d[3], y:d[5], xaxis:S.x, yaxis:S.y, mode:'lines', line:{width:0, shape:'hv'}, fill:'tonexty', fillcolor:band, hoverinfo:'skip'});
  });
  groups.forEach(([k, col]) => {
    const d = kmData[i][k];
    data.push({type:'scatter', x:d[0], y:d[1], xaxis:S.x, yaxis:S.y, mode:'lines', line:{width:1, color:col, shape:'hv'}});
    if (d[6] !== null) {
      const n = d[0].length - 1;
      data.push({type:'scatter', x:[d[0][n], d[6]], y:[d[1][n], 0], xaxis:S.x, yaxis:S.y, mode:'lines', line:{width:1, color:col}});
    }
  });
  groups.forEach(([k, col]) => {
    const d = kmData[i][k];
    data.push({type:'scatter', x:d[2], y:d[2].map(t => stepAt(d[0], d[1], t)), xaxis:S.x, yaxis:S.y, mode:'markers',
      marker:{symbol:'cross-thin', size:5, color:col, line:{width:1, color:col}}});
  });
  // median lines
  const mL = medianL[i], mH = medianH[i];
  const dashLine = {color:'#222', width:1, dash:'4px,3px'};
  layout.shapes.push({type:'line', xref:S.x, yref:S.y, x0:0, x1:Math.max(mL,mH), y0:0.5, y1:0.5, line:dashLine});
  [mL, mH].forEach(m => {
    layout.shapes.push({type:'line', xref:S.x, yref:S.y, x0:m, x1:m, y0:0.5, y1:0.035, line:dashLine});
    ann({text:String(m), xref:S.x, x:m, yref:S.y, y:0, yshift:-1, font:{size:11}});
  });
  // titles & stats
  ann({text:gene, xref:S.x+' domain', x:0.5, y:fy(Y1-17.7), font:{size:11.5}});
  ann({text:kmHR[i], x:fx(right-1), xanchor:'right', y:fy(Y1+5), font:{size:10}});
  ann({text:kmP[i], x:fx(right-12), xanchor:'right', y:fy(Y1+14), font:{size:10}});
  if (i % 3 === 0) ann({text:'Survival probability', x:fx(left-23), y:fy((Y1+Y0)/2), textangle:-90, font:{size:11}});
  // risk table
  ann({text:'Number at risk', x:fx(left+2), xanchor:'left', y:fy(Y0+12.5), font:{size:11}});
  riskTimes.forEach((t, k) => {
    ann({text:String(riskL[i][k]), xref:R.x, x:t, xanchor:k===0?'left':'center', yref:R.y, y:0.49, font:{size:10.5, color:BLUE}});
    ann({text:String(riskH[i][k]), xref:R.x, x:t, xanchor:k===0?'left':'center', yref:R.y, y:0.12, font:{size:10.5, color:RED}});
  });
  ann({text:'L', x:fx(left-3), xanchor:'right', yref:R.y, y:0.49, font:{size:5, color:BLUE}});
  ann({text:'H', x:fx(left-3), xanchor:'right', yref:R.y, y:0.12, font:{size:5, color:RED}});
});
ann({text:'D', x:fx(11.7), y:fy(278), font:{size:14}});

Plotly.newPlot('chart', data, layout, {staticPlot:true, displayModeBar:false});
</script>
</body></html>
